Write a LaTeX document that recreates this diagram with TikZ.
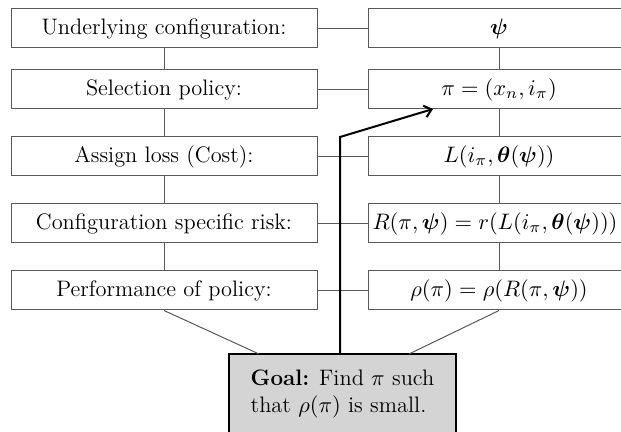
\documentclass[tikz,border=0pt]{standalone}
\usepackage{fix-cm}
\usepackage{amsmath,bm}
\usetikzlibrary{arrows.meta}
\begin{document}
\begin{tikzpicture}[x=0.5pt,y=-0.5pt,
  txt/.style={font=\fontsize{11.2}{13.6}\selectfont},
  lbox/.style={txt, draw=black!65, line width=0.5pt, minimum width=153pt, minimum height=19.5pt, inner sep=0pt},
  rbox/.style={lbox, minimum width=131pt},
  link/.style={draw=black!65, line width=0.5pt},
  goalbox/.style={txt, draw=black, line width=1pt, fill=black!17, minimum width=113.5pt, minimum height=40pt, align=left, inner sep=0pt},
  bold arrow/.style={draw=black, line width=1pt, -{Straight Barb[length=3.5pt,width=6pt]}}]
\useasboundingbox (0,0) rectangle (621,432);
% left column
\node[lbox] (L1) at (164,28.5) {Underlying configuration:};
\node[lbox] (L2) at (164,89.5) {Selection policy:};
\node[lbox] (L3) at (164,156.5) {Assign loss (Cost):};
\node[lbox] (L4) at (164,223.5) {Configuration specific risk:};
\node[lbox] (L5) at (164,290.5) {Performance of policy:};
% right column
\node[rbox] (R1) at (499,28.5) {$\boldsymbol{\psi}$};
\node[rbox] (R2) at (499,89.5) {$\pi=(x_n,i_\pi)$};
\node[rbox] (R3) at (499,156.5) {$L(i_\pi,\boldsymbol{\theta}(\boldsymbol{\psi}))$};
\node[rbox] (R4) at (499,223.5) {$R(\pi,\boldsymbol{\psi})=r(L(i_\pi,\boldsymbol{\theta}(\boldsymbol{\psi})))$\hspace*{4pt}};
\node[rbox] (R5) at (499,290.5) {$\rho(\pi)=\rho(R(\pi,\boldsymbol{\psi}))$};
% goal
\node[goalbox] (G) at (342.5,394) {\textbf{Goal:} Find $\pi$ such\\that $\rho(\pi)$ is small.};
% connectors
\foreach \i in {1,...,5} { \draw[link] (L\i.east) -- (R\i.west); }
\foreach \i/\j in {1/2,2/3,3/4,4/5} {
  \draw[link] (L\i.south) -- (L\j.north);
  \draw[link] (R\i.south) -- (R\j.north);
}
\coordinate (gl) at (259,354);
\coordinate (gr) at (409,354);
\draw[link] (L5.south) -- (gl);
\draw[link] (R5.south) -- (gr);
\coordinate (gs) at (340,354);
\coordinate (bend) at (340,137);
\coordinate (tip) at (433,109);
\draw[bold arrow] (gs) -- (bend) -- (tip);
\end{tikzpicture}
\end{document}
